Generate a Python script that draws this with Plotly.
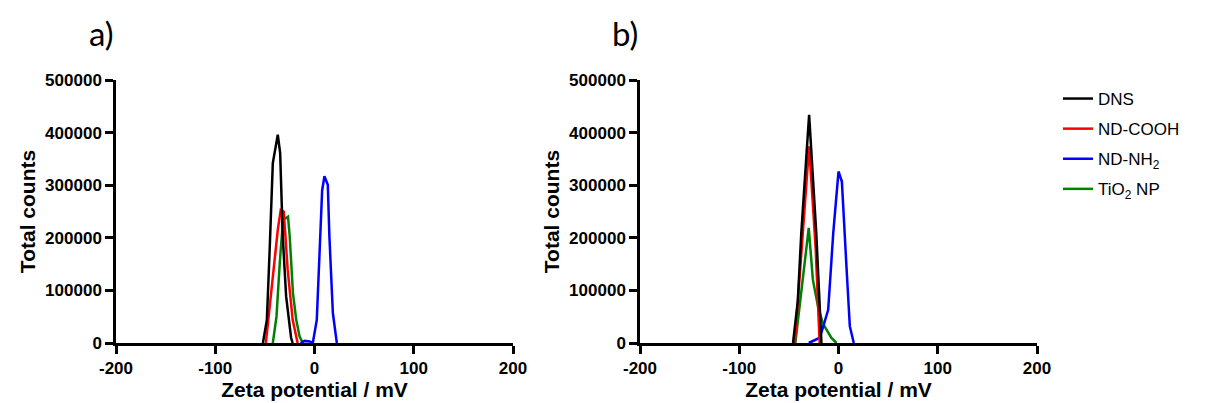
import plotly.graph_objects as go

# ---- Data ----
# Panel a
dns_a_x = [-52, -48, -45.3, -42, -37, -34.6, -32, -28.6, -23.6, -22]
dns_a_y = [0, 44000, 171000, 342000, 396000, 361000, 203000, 89000, 10000, 0]
cooh_a_x = [-49, -44, -40, -37, -34, -31, -27, -22, -17]
cooh_a_y = [0, 95000, 160000, 215000, 253000, 250000, 139000, 44000, 0]
nh2_a_x = [-14, -10, -5, -1.7, 2.3, 7.7, 10, 13.4, 15, 18.5, 22.5]
nh2_a_y = [0, 4000, 3000, 0, 44000, 290000, 317000, 301000, 203000, 57000, 0]
tio2_a_x = [-42, -38.3, -35, -31.7, -26.7, -25, -21.7, -18.4, -15, -11.7]
tio2_a_y = [0, 50000, 152000, 234000, 240000, 203000, 95000, 44000, 12000, 0]

# Panel b
dns_b_x = [-45.8, -41, -37.5, -29.6, -22.4, -19.5, -17.2]
dns_b_y = [0, 80000, 209000, 434000, 209000, 80000, 0]
cooh_b_x = [-44, -37, -29.6, -23, -19]
cooh_b_y = [0, 180000, 374000, 180000, 0]
nh2_b_x = [-30, -18.8, -10.4, -5.3, 0, 3.4, 8, 11.4, 15.4]
nh2_b_y = [0, 10000, 63000, 209000, 326000, 307000, 146000, 32000, 0]
tio2_b_x = [-43.5, -34, -30, -25.8, -20.7, -15.7, -7.3, -2]
tio2_b_y = [0, 146000, 219000, 120000, 70000, 37000, 10000, 0]

names = ["DNS", "ND-COOH", "ND-NH<sub>2</sub>", "TiO<sub>2</sub> NP"]
colors = ["#000000", "#FF0000", "#0000FF", "#008000"]

x_ticks = [-200, -100, 0, 100, 200]
y_ticks = [0, 100000, 200000, 300000, 400000, 500000]

panel_a = [(dns_a_x, dns_a_y), (cooh_a_x, cooh_a_y), (nh2_a_x, nh2_a_y), (tio2_a_x, tio2_a_y)]
panel_b = [(dns_b_x, dns_b_y), (cooh_b_x, cooh_b_y), (nh2_b_x, nh2_b_y), (tio2_b_x, tio2_b_y)]

fig = go.Figure()
draw_order = [3, 2, 1, 0]
for i in draw_order:
    x, y = panel_a[i]
    fig.add_trace(go.Scatter(x=x, y=y, mode="lines", name=names[i],
                             line=dict(color=colors[i], width=2.5),
                             legendgroup=names[i], legendrank=i + 1,
                             showlegend=True, xaxis="x", yaxis="y"))
for i in draw_order:
    x, y = panel_b[i]
    fig.add_trace(go.Scatter(x=x, y=y, mode="lines", name=names[i],
                             line=dict(color=colors[i], width=2.5),
                             legendgroup=names[i], showlegend=False,
                             xaxis="x2", yaxis="y2"))

W = 1208
L, R, T, B = 116, 171, 80, 60
pw = W - L - R
d1 = (513 - 116) / pw
d2 = (640 - 116) / pw

tickfont = dict(family="Liberation Sans, Arial, sans-serif", size=17, color="black")
titlefont = dict(family="Liberation Sans, Arial, sans-serif", size=21, color="black")

def xax(domain, anchor):
    return dict(domain=domain, anchor=anchor, range=[-200, 200], tickvals=x_ticks,
                ticktext=[f"<b>{v}</b>" for v in x_ticks],
                showline=True, linecolor="black", linewidth=2.5,
                ticks="outside", ticklen=8, tickwidth=2.5, tickcolor="black",
                showgrid=False, zeroline=False, tickfont=tickfont,
                title=dict(text="<b>Zeta potential / mV</b>", font=titlefont, standoff=1))

def yax(anchor):
    return dict(domain=[0, 1], anchor=anchor, range=[0, 500000], tickvals=y_ticks,
                ticktext=[f"<b>{v}</b>" for v in y_ticks],
                showline=True, linecolor="black", linewidth=2.5,
                ticks="outside", ticklen=8, tickwidth=2.5, tickcolor="black",
                showgrid=False, zeroline=False, tickfont=tickfont,
                title=dict(text="<b>Total counts</b>", font=titlefont, standoff=4))

fig.update_layout(
    width=W, height=403,
    margin=dict(l=L, r=R, t=T, b=B, autoexpand=False),
    paper_bgcolor="white", plot_bgcolor="white",
    xaxis=xax([0, d1], "y"),
    yaxis=yax("x"),
    xaxis2=xax([d2, 1], "y2"),
    yaxis2=yax("x2"),
    legend=dict(x=(1058 - L) / pw, y=(343 - 81) / 263, xanchor="left", yanchor="top",
                font=dict(family="Liberation Sans, Arial, sans-serif", size=17, color="black"),
                tracegroupgap=5, bgcolor="rgba(0,0,0,0)", itemwidth=30),
    annotations=[
        dict(text="a)", xref="paper", yref="paper", x=(101 - L) / pw, y=(343 - 33) / 263,
             showarrow=False, xanchor="center", yanchor="middle",
             font=dict(family="Lato, Open Sans, sans-serif", size=33, color="black")),
        dict(text="b)", xref="paper", yref="paper", x=(625 - L) / pw, y=(343 - 33) / 263,
             showarrow=False, xanchor="center", yanchor="middle",
             font=dict(family="Lato, Open Sans, sans-serif", size=33, color="black")),
    ],
)

fig.write_html("out.html", config={"displayModeBar": False},
               post_script="document.body.style.margin='0px';document.body.style.overflow='hidden';")
